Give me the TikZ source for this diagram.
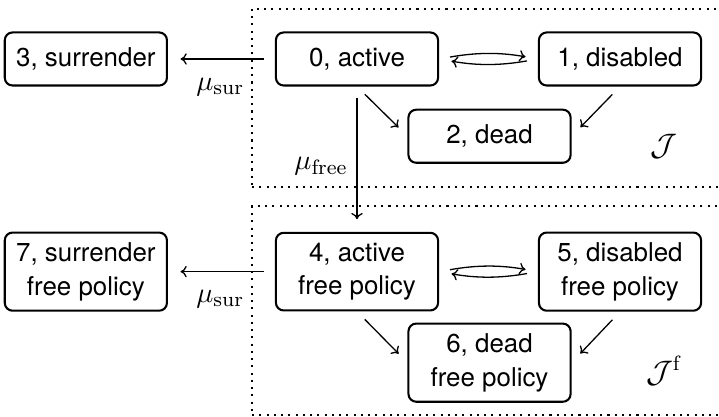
\documentclass[tikz,border=0pt]{standalone}
\usepackage{amsmath,amssymb}
\usepackage[no-math]{fontspec}
\setmainfont{TeX Gyre Heros}
\usepackage{tikz}
\usetikzlibrary{arrows.meta, positioning, fit}
\tikzset{
  statebox/.style={
    rectangle, rounded corners=3pt, draw=black, thick, align=center,
    font=\fontsize{10}{13}\selectfont, minimum width=2.2cm, minimum height=0.72cm,
    inner sep=3.85pt
  },
  groupbox/.style={rectangle, draw=black, thick, dotted, inner xsep=0.31cm, inner ysep=0.31cm},
  arrow/.style={-{To[length=2.4pt,width=4.4pt]}, line width=0.5pt, shorten >=0.17cm, shorten <=0.15cm},
  grouplabel/.style={font=\fontsize{12}{14}\selectfont},
  ratelabel/.style={font=\fontsize{11}{13}\selectfont}
}
\begin{document}
\begin{tikzpicture}
  \useasboundingbox (-4.843,0.800) rectangle (4.911,-4.856);

  \node[statebox] (s0) at (0,0) {0, active};
  \node[statebox, left=1.45cm of s0] (s3) {3, surrender};
  \node[statebox, right=1.34cm of s0] (s1) {1, disabled};
  \node[statebox, below right=0.3cm and -0.43cm of s0] (s2) {2, dead};

  \node[statebox, below=1.97cm of s0] (s4) {4, active\\free policy};
  \node[statebox, left=1.45cm of s4] (s7) {7, surrender\\free policy};
  \node[statebox, right=1.34cm of s4] (s5) {5, disabled\\free policy};
  \node[statebox, below right=0.15cm and -0.43cm of s4] (s6) {6, dead\\free policy};

  % state groups
  \node[groupbox, fit=(s0)(s1)(s2)] (grpJ) {};
  \node[groupbox, inner ysep=0.25cm, yshift=0.09cm, fit=(s4)(s5)(s6)] (grpJf) {};
  \node[grouplabel] (labJ) at ([xshift=0.6cm, yshift=-0.81cm]s1.south) {$\mathcal{J}$};
  \node[grouplabel] (labJf) at ([xshift=0.6cm, yshift=-0.8cm]s5.south) {$\mathcal{J}^{\mathrm{f}}$};

  \draw[arrow] (s0) -- node[ratelabel, pos=0.2, below left, yshift=-0.13cm] {$\mu_{\mathrm{sur}}$} (s3);
  \draw[arrow] (s0.east) to[bend left=10] (s1.west);
  \draw[arrow] (s1.west) to[bend left=10] (s0.east);
  \draw[arrow] (s0.south) -- (s2.west);
  \draw[arrow] (s1.south) -- (s2.east);
  \draw[arrow] (s0) -- node[ratelabel, pos=0.55, left] {$\mu_{\mathrm{free}}$} (s4);

  \draw[arrow] (s4) -- node[ratelabel, pos=0.2, below left, yshift=-0.13cm] {$\mu_{\mathrm{sur}}$} (s7);
  \draw[arrow] (s4.east) to[bend left=10] (s5.west);
  \draw[arrow] (s5.west) to[bend left=10] (s4.east);
  \draw[arrow] (s4.south) -- (s6.west);
  \draw[arrow] (s5.south) -- (s6.east);
\end{tikzpicture}
\end{document}
